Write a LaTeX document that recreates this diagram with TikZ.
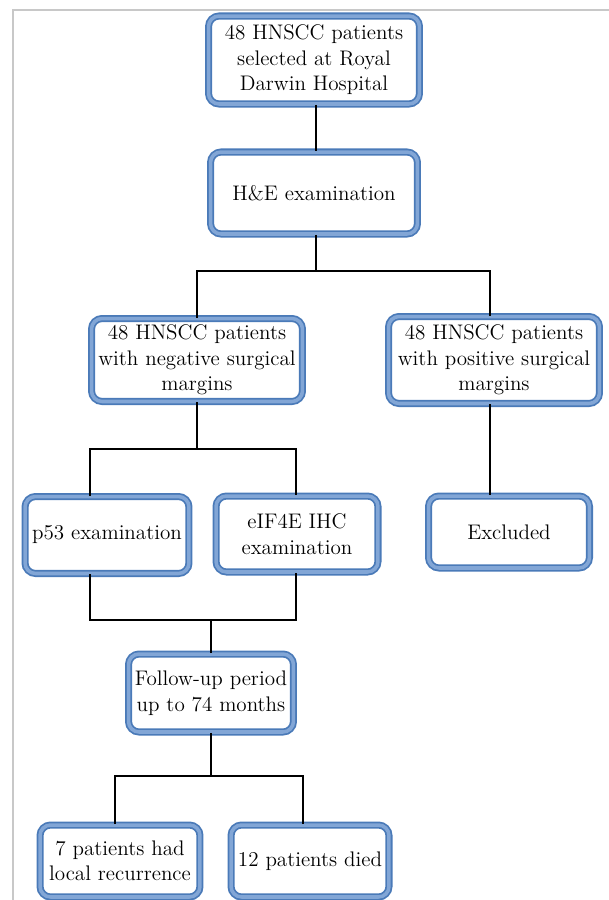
\documentclass[tikz,border=0pt]{standalone}
\usepackage{xcolor}
\usepackage{tikz}
\definecolor{boxedge}{RGB}{74,122,184}
\definecolor{boxband}{RGB}{130,166,214}
\definecolor{framegray}{RGB}{200,200,200}

\begin{document}
\begin{tikzpicture}[x=0.02cm,y=-0.02cm,
		flowbox/.style={draw=boxedge,line width=1pt,double=boxband,double distance=2pt,rounded corners=6pt,fill=white,align=center,inner sep=2pt,font=\fontsize{12}{14.5}\selectfont},
		link/.style={line width=0.8pt}]
		\useasboundingbox (0,0) rectangle (609,900);
		\draw [framegray,line width=0.6pt] (13,900) -- (13,10) -- (609,10);
		\node[flowbox,minimum width=4.22cm,minimum height=1.76cm] (A) at (314,60) {48 HNSCC patients\\selected at Royal\\Darwin Hospital};
		\node[flowbox,minimum width=4.14cm,minimum height=1.64cm] (B) at (314,193) {H\&E examination};
		\node[flowbox,minimum width=4.22cm,minimum height=1.66cm] (C) at (197,360) {48 HNSCC patients\\with negative surgical\\margins};
		\node[flowbox,minimum width=4.22cm,minimum height=1.74cm] (D) at (494,360) {48 HNSCC patients\\with positive surgical\\margins};
		\node[flowbox,minimum width=3.28cm,minimum height=1.54cm] (E) at (107,535) {p53 examination};
		\node[flowbox,minimum width=3.24cm,minimum height=1.52cm] (F) at (297,534) {eIF4E IHC\\examination};
		\node[flowbox,minimum width=3.22cm,minimum height=1.44cm] (G) at (509,532) {Excluded};
		\node[flowbox,minimum width=3.3cm,minimum height=1.56cm] (H) at (211,693) {Follow-up period\\up to 74 months};
		\node[flowbox,minimum width=3.2cm,minimum height=1.44cm] (I) at (120,861) {7 patients had\\local recurrence};
		\node[flowbox,minimum width=3.16cm,minimum height=1.44cm] (J) at (310,861) {12 patients died};
		\coordinate (s1) at (316,271);
		\coordinate (s2) at (197,449);
		\coordinate (s3) at (211,620);
		\coordinate (s4) at (211,776);
		\draw [link] (A.south -| s1) -- (B.north -| s1);
		\draw [link] (B.south -| s1) -- (s1);
		\draw [link] (C.north -| 197,0) |- (s1) -| (D.north -| 490,0);
		\draw [link] (C) -- (s2);
		\draw [link] (E.north -| 90,0) |- (s2) -| (F.north -| 296,0);
		\draw [link] (D.south -| 490,0) -- (G.north -| 490,0);
		\draw [link] (E.south -| 90,0) |- (s3) -| (F.south -| 296,0);
		\draw [link] (s3) -- (H);
		\draw [link] (H) -- (s4);
		\draw [link] (I.north -| 115,0) |- (s4) -| (J.north -| 303,0);
	\end{tikzpicture}
\end{document}
